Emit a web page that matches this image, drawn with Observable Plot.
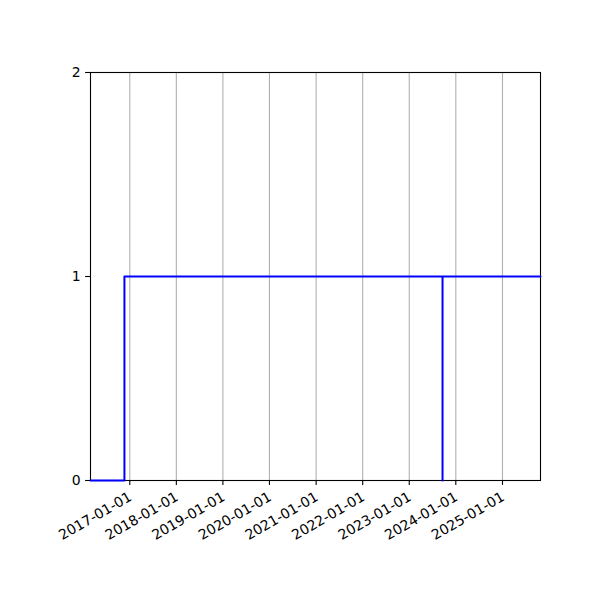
<!DOCTYPE html>
<html>
<head>
<meta charset="utf-8">
<script src="https://cdn.jsdelivr.net/npm/d3@7"></script>
<script src="https://cdn.jsdelivr.net/npm/@observablehq/plot@0.6"></script>
<style>
  html, body { margin: 0; padding: 0; background: #fff; }
  #chart svg { display: block; }
</style>
</head>
<body>
<div id="chart"></div>
<script>
// Data (step series, values 0/1)
const dates = ["2016-02-28", "2016-11-20", "2023-09-19", "2023-09-19", "2025-10-26"];
const values = [0, 1, 0, 1, 1];
const xDomain = ["2016-02-28", "2025-10-26"];
const xTickLabels = ["2017-01-01", "2018-01-01", "2019-01-01", "2020-01-01", "2021-01-01", "2022-01-01", "2023-01-01", "2024-01-01", "2025-01-01"];
const yTicks = [0, 1, 2];

const parse = d3.utcParse("%Y-%m-%d");
const series = dates.map((d, i) => ({date: parse(d), value: values[i]}));
const xTicks = xTickLabels.map(parse);
const font = "DejaVu Sans, sans-serif";
const fs = 14;

const chart = Plot.plot({
  width: 600,
  height: 600,
  marginLeft: 90,
  marginRight: 60,
  marginTop: 72,
  marginBottom: 120,
  style: {fontFamily: font, fontSize: fs + "px", background: "#fff", color: "#000"},
  x: {type: "utc", domain: xDomain.map(parse)},
  y: {domain: [0, 2]},
  marks: [
    Plot.gridX(xTicks, {stroke: "#b0b0b0", strokeOpacity: 1, strokeWidth: 1.1}),
    Plot.frame({stroke: "#000", strokeWidth: 1.1}),
    Plot.line(series, {x: "date", y: "value", curve: "step-after", stroke: "#0000ff", strokeWidth: 2}),
    Plot.axisX({ticks: xTicks, tickSize: 4.9, tickPadding: 100, tickFormat: () => "", stroke: "#000", strokeWidth: 1.1, label: null}),
    Plot.text(xTicks, {x: d => d, frameAnchor: "bottom", dx: -2, dy: 10.5, text: (d, i) => xTickLabels[i], rotate: -30, textAnchor: "end", lineAnchor: "top", fontSize: fs, fill: "#000"}),
    Plot.axisY({ticks: yTicks, tickSize: 4.9, tickPadding: 4.9, tickFormat: d3.format("d"), fontSize: fs, stroke: "#000", strokeWidth: 1.1, label: null})
  ]
});
document.getElementById("chart").appendChild(chart);
</script>
</body>
</html>
